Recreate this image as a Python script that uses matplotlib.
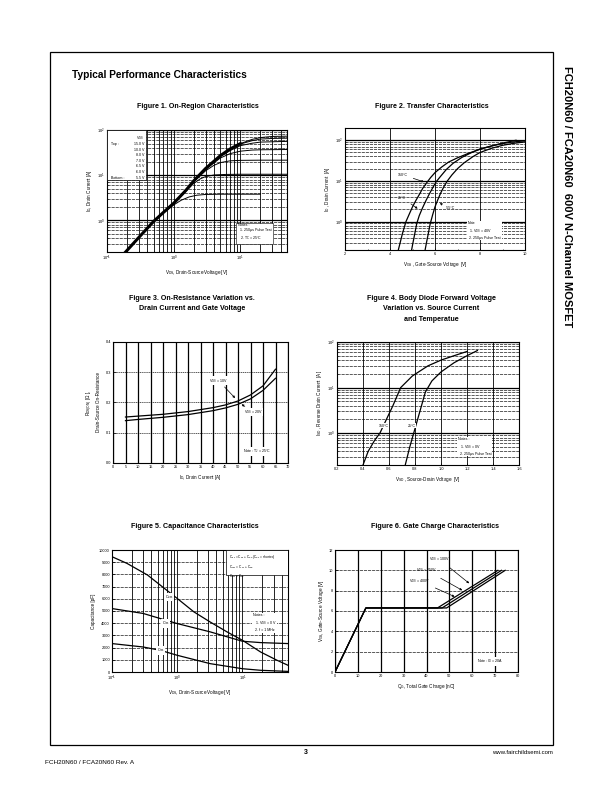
import matplotlib
matplotlib.use("Agg")
import matplotlib.pyplot as plt
from matplotlib.ticker import NullFormatter, MultipleLocator
from matplotlib.patches import Rectangle

plt.rcParams['font.family'] = ['Liberation Sans', 'DejaVu Sans']
plt.rcParams['mathtext.fontset'] = 'custom'
plt.rcParams['mathtext.rm'] = 'Liberation Sans'
plt.rcParams['mathtext.it'] = 'Liberation Sans'
plt.rcParams['mathtext.default'] = 'regular'

# ---- Figure 1: on-region characteristics (VDS [V], ID [A]) ----
f1_vgs_labels = ["15.0 V", "10.0 V", "8.0 V", "7.0 V", "6.5 V", "6.0 V", "5.5 V"]
f1_v_15 = [0.19, 0.3, 0.5, 0.7, 1.0, 1.5, 2.0, 3.0, 5.0, 7.0, 10, 15, 20, 30, 50]
f1_i_15 = [0.2, 0.42, 0.95, 1.5, 2.4, 4.5, 7.5, 14, 27, 38, 50, 62, 68, 72, 73]
f1_v_10 = [0.19, 0.3, 0.5, 0.7, 1.0, 1.5, 2.0, 3.0, 5.0, 7.0, 10, 15, 20, 30, 50]
f1_i_10 = [0.2, 0.42, 0.95, 1.5, 2.4, 4.5, 7.5, 14, 27, 38, 49, 58, 63, 65, 66]
f1_v_8 = [0.19, 0.3, 0.5, 0.7, 1.0, 1.5, 2.0, 3.0, 5.0, 7.0, 10, 15, 20, 50]
f1_i_8 = [0.2, 0.42, 0.95, 1.5, 2.4, 4.5, 7.5, 14, 26, 35, 45, 51, 54, 56]
f1_v_7 = [0.19, 0.3, 0.5, 0.7, 1.0, 1.5, 2.0, 3.0, 5.0, 7.0, 10, 15, 20, 50]
f1_i_7 = [0.2, 0.42, 0.95, 1.5, 2.4, 4.5, 7.5, 13.5, 24, 30, 34, 36, 36.5, 37]
f1_v_65 = [0.19, 0.3, 0.5, 0.7, 1.0, 1.5, 2.0, 3.0, 4.0, 5.0, 7.0, 10, 20, 50]
f1_i_65 = [0.2, 0.42, 0.95, 1.5, 2.4, 4.4, 7.2, 12.5, 16.5, 19, 20.8, 21.3, 21.5, 21.5]
f1_v_6 = [0.19, 0.3, 0.5, 0.7, 1.0, 1.5, 2.0, 2.5, 3.0, 4.0, 6.0, 10, 20, 50]
f1_i_6 = [0.2, 0.42, 0.95, 1.5, 2.4, 4.3, 6.6, 8.3, 9.3, 10.1, 10.4, 10.5, 10.5, 10.5]
f1_v_55 = [0.19, 0.3, 0.5, 0.7, 1.0, 1.3, 1.7, 2.2, 3.0, 5.0, 10, 20]
f1_i_55 = [0.2, 0.42, 0.93, 1.45, 2.2, 2.8, 3.3, 3.6, 3.75, 3.8, 3.8, 3.8]

# ---- Figure 2: transfer characteristics (VGS [V], ID [A]) ----
f2_v_150 = [4.37, 4.45, 4.55, 4.71, 4.85, 5.0, 5.15, 5.3, 5.45, 5.63, 5.8, 6.0, 6.3, 6.6,
            7.0, 7.5, 8.0, 8.5, 9.0, 9.6]
f2_i_150 = [0.2, 0.3, 0.5, 1.0, 1.5, 2.3, 3.3, 4.6, 6.5, 9.0, 12, 16, 22, 29,
            37, 48, 60, 72, 85, 100]
f2_v_25 = [4.96, 5.02, 5.1, 5.19, 5.3, 5.45, 5.6, 5.75, 5.9, 6.05, 6.25, 6.5, 6.8, 7.2,
           7.6, 8.0, 8.5, 9.0, 9.5, 10.0]
f2_i_25 = [0.2, 0.3, 0.5, 0.9, 1.4, 2.2, 3.3, 4.8, 6.8, 9.5, 13, 19, 27, 38,
           49, 61, 72, 83, 91, 97]
f2_v_m55 = [5.56, 5.62, 5.7, 5.78, 5.9, 6.0, 6.12, 6.25, 6.4, 6.55, 6.75, 7.0, 7.3, 7.7,
            8.0, 8.5, 9.0, 9.5, 10.0]
f2_i_m55 = [0.2, 0.3, 0.5, 0.85, 1.5, 2.3, 3.4, 5.0, 7.3, 10, 14, 20, 28, 40,
            50, 63, 75, 84, 91]

# ---- Figure 3: on-resistance vs drain current (ID [A], RDS(on) [ohm]) ----
f3_id = [5, 10, 20, 30, 40, 45, 50, 55, 60, 65]
f3_r_10v = [0.152, 0.155, 0.161, 0.170, 0.183, 0.192, 0.205, 0.225, 0.255, 0.31]
f3_r_20v = [0.140, 0.144, 0.151, 0.160, 0.173, 0.182, 0.194, 0.212, 0.240, 0.28]

# ---- Figure 4: body diode forward voltage (VSD [V], ISD [A]) ----
f4_v_150 = [0.40, 0.44, 0.49, 0.53, 0.58, 0.63, 0.69, 0.78, 0.90, 1.00, 1.10, 1.20]
f4_i_150 = [0.2, 0.4, 0.7, 1.0, 2.0, 4.0, 10, 18, 30, 40, 50, 62]
f4_v_25 = [0.725, 0.76, 0.79, 0.82, 0.85, 0.88, 0.93, 1.00, 1.10, 1.20, 1.28]
f4_i_25 = [0.2, 0.5, 1.0, 2.0, 4.0, 8.0, 14, 22, 35, 50, 65]

# ---- Figure 5: capacitance (VDS [V], C [pF]) ----
f5_v_oss = [0.1, 0.17, 0.35, 0.55, 1.0, 1.8, 3.2, 5.8, 10, 19, 34, 50]
f5_c_oss = [9450, 8900, 7950, 7120, 6030, 4930, 4100, 3290, 2600, 1640, 960, 550]
f5_v_iss = [0.1, 0.3, 1.0, 3.2, 10, 19, 50]
f5_c_iss = [5200, 4800, 3970, 3290, 2520, 2410, 2330]
f5_v_rss = [0.1, 0.3, 0.55, 1.0, 3.2, 10, 19, 50]
f5_c_rss = [2330, 2050, 1780, 1370, 685, 270, 140, 50]

# ---- Figure 6: gate charge (QG [nC], VGS [V]) ----
f6_q_100 = [0, 13.5, 44.8, 71.2]
f6_q_250 = [0, 13.5, 46.8, 72.8]
f6_q_400 = [0, 13.5, 48.8, 74.4]
f6_vgs = [0, 6.3, 6.3, 10.0]

W, H = 612, 792
fig = plt.figure(figsize=(W / 100, H / 100), dpi=100)

TICK = 2.8
LAB = 3.3
NOTE = 2.6
CURVE = 0.9


def add_ax(x0, y0, x1, y1):
    return fig.add_axes([x0 / W, 1 - y1 / H, (x1 - x0) / W, (y1 - y0) / H])


def style(ax):
    ax.tick_params(which='both', direction='in', labelsize=TICK, width=0.5, pad=1.5)
    ax.tick_params(which='major', length=1.8)
    ax.tick_params(which='minor', length=1.0)
    for s in ax.spines.values():
        s.set_linewidth(0.8)
    ax.set_axisbelow(True)


def vgrid(ax, which, lw=0.6):
    ax.xaxis.grid(True, which=which, color='k', lw=lw, ls='-')


def hgrid_log(ax):
    ax.yaxis.grid(True, which='major', color='k', lw=0.9, ls='-')
    ax.yaxis.grid(True, which='minor', color='k', lw=0.45, ls=(0, (5, 1.5)))


def note(ax, x, y, s, box=True):
    kw = dict(boxstyle='square,pad=0.5', fc='white', ec='k', lw=0.4) if box else \
        dict(boxstyle='square,pad=0.2', fc='white', ec='none')
    ax.text(x, y, s, transform=ax.transAxes, fontsize=NOTE, va='top', ha='left',
            linespacing=1.35, bbox=kw, zorder=5)


# ---------------- Figure 1 ----------------
ax1 = add_ax(107, 130, 287, 252)
ax1.set_xscale('log')
ax1.set_yscale('log')
ax1.set_xlim(0.1, 50)
ax1.set_ylim(0.2, 100)
for v, i in [(f1_v_15, f1_i_15), (f1_v_10, f1_i_10), (f1_v_8, f1_i_8), (f1_v_7, f1_i_7),
             (f1_v_65, f1_i_65), (f1_v_6, f1_i_6), (f1_v_55, f1_i_55)]:
    ax1.plot(v, i, color='k', lw=0.7)
ax1.plot(f1_v_15[:11], f1_i_15[:11], color='k', lw=2.2)
vgrid(ax1, 'both')
hgrid_log(ax1)
ax1.xaxis.set_minor_formatter(NullFormatter())
ax1.yaxis.set_minor_formatter(NullFormatter())
style(ax1)
ax1.set_xlabel(r'V$_{DS}$, Drain-Source Voltage [V]', fontsize=LAB, labelpad=3)
ax1.set_ylabel(r'I$_D$, Drain Current [A]', fontsize=LAB, labelpad=2)
ax1.add_patch(Rectangle((0, 0.59), 0.215, 0.41, transform=ax1.transAxes,
                        fc='white', ec='k', lw=0.5, zorder=4))
ax1.text(0.205, 0.965, r'V$_{GS}$', transform=ax1.transAxes, fontsize=NOTE, ha='right', va='top', zorder=5)
rows_y = [0.905, 0.855, 0.81, 0.765, 0.72, 0.675, 0.625]
for yy, lab in zip(rows_y, f1_vgs_labels):
    ax1.text(0.205, yy, lab, transform=ax1.transAxes, fontsize=NOTE, ha='right', va='top', zorder=5)
ax1.text(0.02, rows_y[0], 'Top :', transform=ax1.transAxes, fontsize=NOTE, va='top', zorder=5)
ax1.text(0.02, rows_y[-1], 'Bottom :', transform=ax1.transAxes, fontsize=NOTE, va='top', zorder=5)
note(ax1, 0.725, 0.235, "Notes :\n  1. 250\u03bcs Pulse Test\n  2. T$_C$ = 25\u00b0C")

# ---------------- Figure 2 ----------------
ax2 = add_ax(345, 128, 525, 250)
ax2.set_yscale('log')
ax2.set_xlim(2, 10)
ax2.set_ylim(0.2, 200)
for v, i in [(f2_v_150, f2_i_150), (f2_v_25, f2_i_25), (f2_v_m55, f2_i_m55)]:
    ax2.plot(v, i, color='k', lw=CURVE)
ax2.xaxis.set_major_locator(MultipleLocator(2))
ax2.xaxis.set_minor_locator(MultipleLocator(1))
vgrid(ax2, 'major')
hgrid_log(ax2)
ax2.yaxis.set_minor_formatter(NullFormatter())
style(ax2)
ax2.set_xlabel(r'V$_{GS}$ , Gate-Source Voltage  [V]', fontsize=LAB, labelpad=3)
ax2.set_ylabel(r'I$_D$ , Drain Current  [A]', fontsize=LAB, labelpad=2)
arrow = dict(arrowstyle='-|>', color='k', lw=0.5, mutation_scale=3)
ax2.annotate('150\u00b0C', xy=(5.63, 9.0), xytext=(4.35, 14), fontsize=NOTE, arrowprops=arrow,
             va='center')
ax2.annotate('25\u00b0C', xy=(5.33, 1.9), xytext=(4.35, 3.9), fontsize=NOTE, arrowprops=arrow,
             va='center')
ax2.annotate('-55\u00b0C', xy=(6.1, 3.0), xytext=(6.5, 2.1), fontsize=NOTE, arrowprops=arrow,
             va='center')
note(ax2, 0.68, 0.235, "Note\n  1. V$_{DS}$ = 40V\n  2. 250\u03bcs Pulse Test", box=False)

# ---------------- Figure 3 ----------------
ax3 = add_ax(113, 342, 288, 463)
ax3.set_xlim(0, 70)
ax3.set_ylim(0, 0.4)
ax3.plot(f3_id, f3_r_10v, color='k', lw=CURVE)
ax3.plot(f3_id, f3_r_20v, color='k', lw=CURVE)
ax3.xaxis.set_major_locator(MultipleLocator(5))
ax3.yaxis.set_major_locator(MultipleLocator(0.1))
ax3.xaxis.grid(True, which='major', color='k', lw=0.9)
ax3.yaxis.grid(True, which='major', color='k', lw=0.45, ls=(0, (2, 1)))
style(ax3)
ax3.set_xlabel(r'I$_D$, Drain Current [A]', fontsize=LAB, labelpad=3)
ax3.set_ylabel('R$_{DS(ON)}$ [$\\Omega$ ],\nDrain-Source On-Resistance', fontsize=LAB, labelpad=3)
ax3.annotate(r'V$_{GS}$ = 10V', xy=(49.6, 0.208), xytext=(38.5, 0.272), fontsize=NOTE,
             arrowprops=arrow, va='center', bbox=dict(fc='white', ec='none', pad=0.3))
ax3.annotate(r'V$_{GS}$ = 20V', xy=(50.5, 0.199), xytext=(52.5, 0.168), fontsize=NOTE,
             arrowprops=arrow, va='center', bbox=dict(fc='white', ec='none', pad=0.3))
ax3.text(0.745, 0.095, r'Note : T$_J$ = 25$\degree$C', transform=ax3.transAxes, fontsize=NOTE,
         va='center', bbox=dict(fc='white', ec='none', pad=0.5))

# ---------------- Figure 4 ----------------
ax4 = add_ax(337, 342, 519, 465)
ax4.set_yscale('log')
ax4.set_xlim(0.2, 1.6)
ax4.set_ylim(0.2, 100)
ax4.plot(f4_v_150, f4_i_150, color='k', lw=CURVE)
ax4.plot(f4_v_25, f4_i_25, color='k', lw=CURVE)
ax4.xaxis.set_major_locator(MultipleLocator(0.2))
ax4.xaxis.set_major_formatter(plt.FuncFormatter(lambda x, p: '%.1f' % x))
vgrid(ax4, 'major')
hgrid_log(ax4)
ax4.yaxis.set_minor_formatter(NullFormatter())
style(ax4)
ax4.set_xlabel(r'V$_{SD}$ , Source-Drain Voltage  [V]', fontsize=LAB, labelpad=3)
ax4.set_ylabel(r'I$_{SD}$ , Reverse Drain Current  [A]', fontsize=LAB, labelpad=2)
ax4.text(0.52, 1.45, '150\u00b0C', fontsize=NOTE, va='center',
         bbox=dict(fc='white', ec='none', pad=0.3))
ax4.text(0.745, 1.45, '25\u00b0C', fontsize=NOTE, va='center',
         bbox=dict(fc='white', ec='none', pad=0.3))
note(ax4, 0.665, 0.225, "Notes :\n  1. V$_{GS}$ = 0V\n  2. 250\u03bcs Pulse Test", box=False)

# ---------------- Figure 5 ----------------
ax5 = add_ax(112, 550, 288, 672)
ax5.set_xscale('log')
ax5.set_xlim(0.1, 50)
ax5.set_ylim(0, 10000)
ax5.plot(f5_v_oss, f5_c_oss, color='k', lw=CURVE)
ax5.plot(f5_v_iss, f5_c_iss, color='k', lw=CURVE)
ax5.plot(f5_v_rss, f5_c_rss, color='k', lw=CURVE)
ax5.yaxis.set_major_locator(MultipleLocator(1000))
ax5.xaxis.set_minor_formatter(NullFormatter())
vgrid(ax5, 'both')
ax5.yaxis.grid(True, which='major', color='k', lw=0.45, ls=(0, (5, 1.5)))
style(ax5)
ax5.set_xlabel(r'V$_{DS}$, Drain-Source Voltage [V]', fontsize=LAB, labelpad=3)
ax5.set_ylabel('Capacitance [pF]', fontsize=LAB, labelpad=2)
lbl = dict(fontsize=NOTE, va='center', ha='center', bbox=dict(fc='white', ec='none', pad=0.4))
ax5.text(0.75, 6160, r'C$_{oss}$', **lbl)
ax5.text(0.66, 3970, r'C$_{iss}$', **lbl)
ax5.text(0.56, 1780, r'C$_{rss}$', **lbl)
ax5.add_patch(Rectangle((0.648, 0.795), 0.352, 0.205, transform=ax5.transAxes,
                        fc='white', ec='k', lw=0.5, zorder=4))
ax5.text(0.665, 0.975, "C$_{iss}$ = C$_{gs}$ + C$_{gd}$ (C$_{ds}$ = shorted)\n"
         "C$_{oss}$ = C$_{ds}$ + C$_{gd}$\nC$_{rss}$ = C$_{gd}$",
         transform=ax5.transAxes, fontsize=2.3, va='top', linespacing=1.5, zorder=5)
note(ax5, 0.8, 0.48, "Notes :\n  1. V$_{GS}$ = 0 V\n  2. f = 1 MHz", box=False)

# ---------------- Figure 6 ----------------
ax6 = add_ax(335, 550, 518, 672)
ax6.set_xlim(0, 80)
ax6.set_ylim(0, 12)
for q in [f6_q_100, f6_q_250, f6_q_400]:
    ax6.plot(q, f6_vgs, color='k', lw=CURVE)
ax6.xaxis.set_major_locator(MultipleLocator(10))
ax6.yaxis.set_major_locator(MultipleLocator(2))
ax6.xaxis.grid(True, which='major', color='k', lw=0.9)
ax6.yaxis.grid(True, which='major', color='k', lw=0.45, ls=(0, (5, 1.5)))
style(ax6)
ax6.set_xlabel(r'Q$_G$, Total Gate Charge [nC]', fontsize=LAB, labelpad=3)
ax6.set_ylabel(r'V$_{GS}$, Gate-Source Voltage [V]', fontsize=LAB, labelpad=2)
ax6.annotate(r'V$_{DS}$ = 100V', xy=(59.6, 8.55), xytext=(41.0, 11.1), fontsize=NOTE,
             arrowprops=arrow, va='center')
ax6.annotate(r'V$_{DS}$ = 250V', xy=(56.7, 7.9), xytext=(35.5, 10.0), fontsize=NOTE,
             arrowprops=arrow, va='center')
ax6.annotate(r'V$_{DS}$ = 400V', xy=(53.4, 7.3), xytext=(32.5, 8.95), fontsize=NOTE,
             arrowprops=arrow, va='center')
ax6.text(62, 1.05, r'Note : I$_D$ = 20A', fontsize=NOTE, va='center',
         bbox=dict(fc='white', ec='none', pad=0.4))


# ---------------- page furniture ----------------
def ftext(x, y, s, **kw):
    fig.text(x / W, 1 - y / H, s, **kw)


fig.add_artist(Rectangle((50 / W, 1 - 745 / H), 503 / W, 693 / H, transform=fig.transFigure,
                         fill=False, ec='k', lw=0.9))
ftext(567, 197, 'FCH20N60 / FCA20N60  600V N-Channel MOSFET', rotation=-90,
      fontsize=8, fontweight='bold', ha='center', va='center')
ftext(72, 75, 'Typical Performance Characteristics', fontsize=7.3, fontweight='bold',
      va='center')
tkw = dict(fontsize=5.1, fontweight='bold', ha='center', va='center')
ftext(198, 107, 'Figure 1. On-Region Characteristics', **tkw)
ftext(432, 107, 'Figure 2. Transfer Characteristics', **tkw)
ftext(192, 298, 'Figure 3. On-Resistance Variation vs.', **tkw)
ftext(192, 309, 'Drain Current and Gate Voltage', **tkw)
ftext(431, 298, 'Figure 4. Body Diode Forward Voltage', **tkw)
ftext(431, 309, 'Variation vs. Source Current', **tkw)
ftext(431, 320, 'and Temperatue', **tkw)
ftext(195, 527, 'Figure 5. Capacitance Characteristics', **tkw)
ftext(435, 527, 'Figure 6. Gate Charge Characteristics', **tkw)
ftext(306, 752, '3', fontsize=5, fontweight='bold', ha='center', va='center')
ftext(553, 752, 'www.fairchildsemi.com', fontsize=4.3, ha='right', va='center')
ftext(45, 763, 'FCH20N60 / FCA20N60 Rev. A', fontsize=4.6, ha='left', va='center')

fig.savefig('out.png', dpi=100)
